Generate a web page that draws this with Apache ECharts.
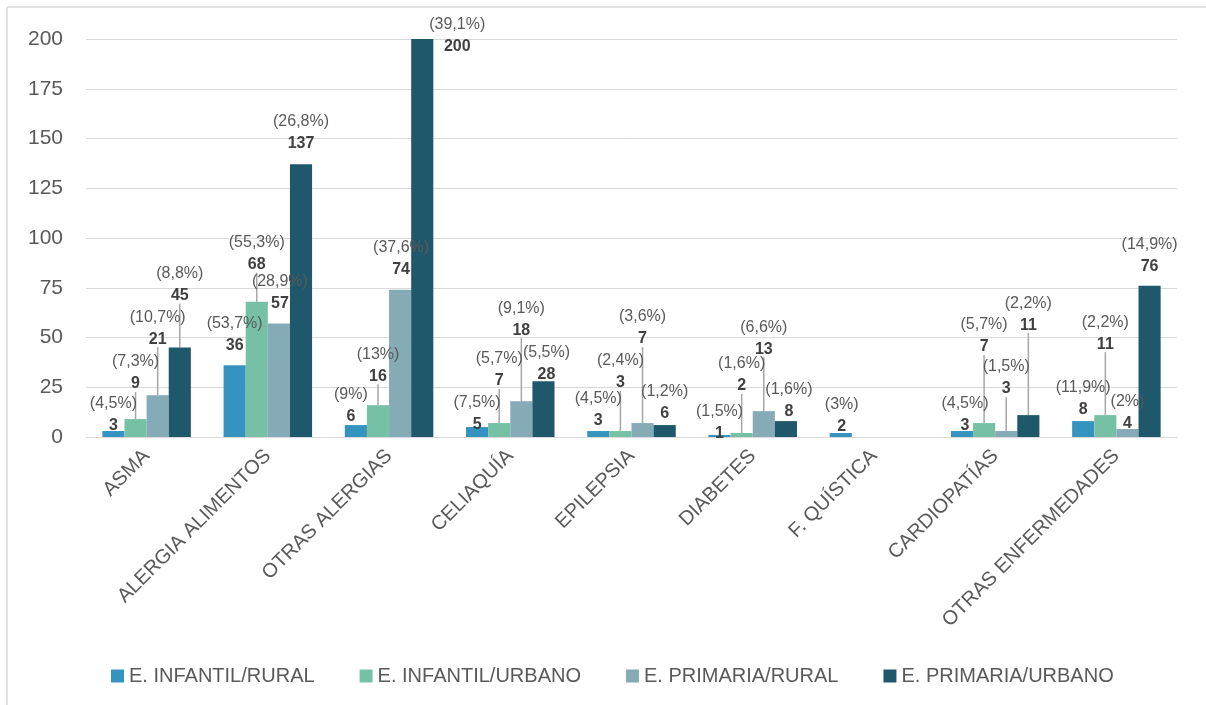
<!DOCTYPE html>
<html>
<head>
<meta charset="utf-8">
<script src="https://cdn.jsdelivr.net/npm/echarts@6/dist/echarts.min.js"></script>
<style>
html,body{margin:0;padding:0;background:#fff;}
#chart{width:1206px;height:705px;}
</style>
</head>
<body>
<div id="chart"></div>
<script>
// ---- data ----
var categories = ['ASMA', 'ALERGIA ALIMENTOS', 'OTRAS ALERGIAS', 'CELIAQUÍA', 'EPILEPSIA', 'DIABETES', 'F. QUÍSTICA', 'CARDIOPATÍAS', 'OTRAS ENFERMEDADES'];
var seriesNames = ['E. INFANTIL/RURAL', 'E. INFANTIL/URBANO', 'E. PRIMARIA/RURAL', 'E. PRIMARIA/URBANO'];
var infantilRural  = [3, 36, 6, 5, 3, 1, 2, 3, 8];
var infantilUrbano = [9, 68, 16, 7, 3, 2, 0, 7, 11];
var primariaRural  = [21, 57, 74, 18, 7, 13, 0, 3, 4];
var primariaUrbano = [45, 137, 200, 28, 6, 8, 0, 11, 76];
var pctInfantilRural  = ['4,5%', '53,7%', '9%', '7,5%', '4,5%', '1,5%', '3%', '4,5%', '11,9%'];
var pctInfantilUrbano = ['7,3%', '55,3%', '13%', '5,7%', '2,4%', '1,6%', '', '5,7%', '2,2%'];
var pctPrimariaRural  = ['10,7%', '28,9%', '37,6%', '9,1%', '3,6%', '6,6%', '', '1,5%', '2%'];
var pctPrimariaUrbano = ['8,8%', '26,8%', '39,1%', '5,5%', '1,2%', '1,6%', '', '2,2%', '14,9%'];
var yTicks = { min: 0, max: 200, interval: 25 };

// ---- styling / label placement (pixels, relative to default top label) ----
var colors = ['#3494BF', '#76C0A6', '#85ABB6', '#1F576B'];
var labelShift = [
  [[0,0],[0,-15],[-5,-3],[0,3],[0,-5],[0,4],[1,-1],[3,0],[0,-6]],
  [[0,-30],[0,-32],[0,-24],[0,-37],[0,-43],[0,-42],[0,0],[0,-71],[0,-66]],
  [[0,-51],[1,-15],[1,-15],[0,-66],[0,-79],[0,-57],[0,0],[0,-37],[0,0]],
  [[0,-47],[0,-16],[35,13],[3,-2],[0,-6],[3,-4],[0,0],[0,-85],[0,-14]]
];

var values = [infantilRural, infantilUrbano, primariaRural, primariaUrbano];
var pcts = [pctInfantilRural, pctInfantilUrbano, pctPrimariaRural, pctPrimariaUrbano];
var FONT = '"Liberation Sans", Arial, sans-serif';

var series = values.map(function (vals, si) {
  return {
    name: seriesNames[si],
    type: 'bar',
    barGap: '0%',
    barCategoryGap: '27%',
    itemStyle: { color: colors[si] },
    data: vals.map(function (v, di) {
      return { value: v, labelLine: { show: labelShift[si][di][1] < -20 } };
    }),
    label: {
      show: true,
      position: 'top',
      distance: 0,
      formatter: function (p) {
        if (!p.value) return '';
        return '{p|(' + pcts[p.seriesIndex][p.dataIndex] + ')}\n{v|' + p.value + '}';
      },
      rich: {
        p: { fontFamily: FONT, fontSize: 16, color: '#595959', lineHeight: 22 },
        v: { fontFamily: FONT, fontSize: 16, fontWeight: 'bold', color: '#404040', lineHeight: 22 }
      }
    },
    labelLine: { lineStyle: { color: '#A6A6A6', width: 1.5 } },
    labelLayout: function (p) {
      var s = labelShift[p.seriesIndex][p.dataIndex];
      return { dx: s[0], dy: s[1] + 6 };
    }
  };
});

var chart = echarts.init(document.getElementById('chart'), null, { renderer: 'canvas' });
chart.setOption({
  animation: false,
  backgroundColor: '#ffffff',
  textStyle: { fontFamily: FONT },
  graphic: [
    { type: 'line', shape: { x1: 7, y1: 7, x2: 7, y2: 705 }, style: { stroke: '#D9D9D9', lineWidth: 1.5 } },
    { type: 'line', shape: { x1: 7, y1: 7, x2: 1206, y2: 7 }, style: { stroke: '#D9D9D9', lineWidth: 1.5 } }
  ],
  grid: { left: 86, right: 29, top: 39, bottom: 268, containLabel: false },
  legend: {
    data: seriesNames,
    left: 106,
    top: 661,
    icon: 'rect',
    itemWidth: 13,
    itemHeight: 13,
    itemGap: 45,
    textStyle: { fontFamily: FONT, fontSize: 20, color: '#595959' }
  },
  xAxis: {
    type: 'category',
    data: categories,
    axisLine: { lineStyle: { color: '#D9D9D9', width: 1 } },
    axisTick: { show: false },
    axisLabel: { interval: 0, rotate: 45, margin: 16, fontFamily: FONT, fontSize: 20, color: '#595959' }
  },
  yAxis: {
    type: 'value',
    min: yTicks.min,
    max: yTicks.max,
    interval: yTicks.interval,
    axisLine: { show: false },
    axisTick: { show: false },
    splitLine: { lineStyle: { color: '#D9D9D9', width: 1 } },
    axisLabel: { margin: 23, fontFamily: FONT, fontSize: 21, color: '#595959' }
  },
  series: series
});
</script>
</body>
</html>
